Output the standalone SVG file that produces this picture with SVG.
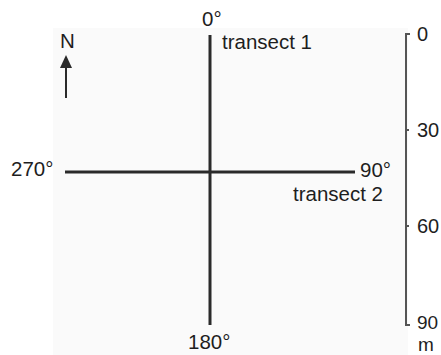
<svg xmlns="http://www.w3.org/2000/svg" width="441" height="355" viewBox="0 0 441 355">
  <defs>
    <style>
      text { font-family: "Liberation Sans", Arial, sans-serif; font-size: 20.5px; fill: #1e1e1e; }
      .scale-text { font-size: 20px; }
      .scale-small { font-size: 19px; }
      .transect { stroke: #2a2a2a; stroke-width: 3; fill: none; }
      .scale { stroke: #555; stroke-width: 2; fill: none; }
    </style>
  </defs>
  <rect x="53" y="28" width="355" height="327" fill="#fafafa"/>

  <g id="connectors">
    <line id="transect1" class="transect" x1="210" y1="35" x2="210" y2="325"/>
    <line id="transect2" class="transect" x1="65" y1="172" x2="355" y2="172"/>
  </g>

  <g id="north">
    <text x="60" y="48">N</text>
    <line x1="66" y1="98" x2="66" y2="68" stroke="#2a2a2a" stroke-width="2"/>
    <path d="M60,68 L66,55 L72,68 Z" fill="#2a2a2a"/>
  </g>

  <g id="labels">
    <text x="202" y="26">0°</text>
    <text x="222" y="49">transect 1</text>
    <text x="11" y="176">270°</text>
    <text x="360" y="177">90°</text>
    <text x="293" y="201">transect 2</text>
    <text x="188" y="349">180°</text>
  </g>

  <g id="scale-bar">
    <path class="scale" d="M410,34 L406,34 L406,325 L410,325"/>
    <line class="scale" x1="406" y1="130" x2="409" y2="130"/>
    <line class="scale" x1="406" y1="226" x2="409" y2="226"/>
    <text class="scale-text" x="417" y="41">0</text>
    <text class="scale-text" x="417" y="137">30</text>
    <text class="scale-text" x="417" y="233">60</text>
    <text class="scale-small" x="417" y="329">90</text>
    <text class="scale-small" x="418" y="350.5">m</text>
  </g>
</svg>
